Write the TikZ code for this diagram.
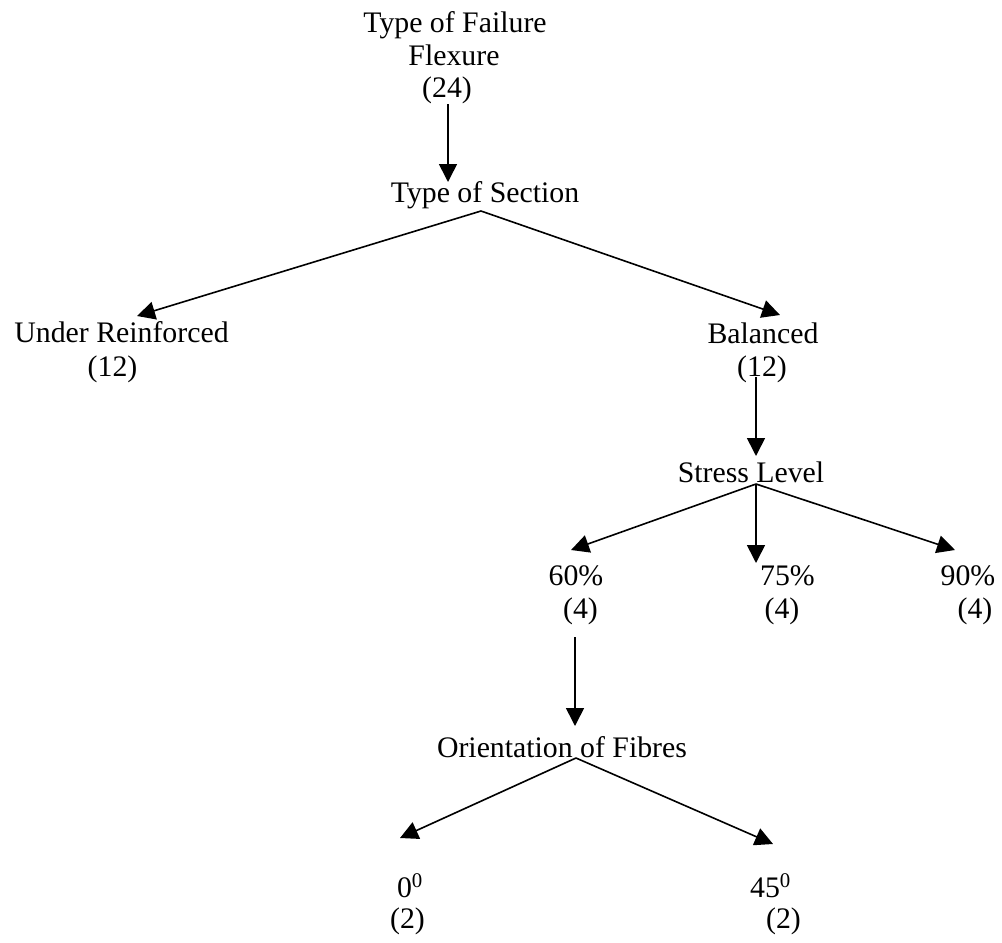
\documentclass[tikz,border=0pt]{standalone}
\usepackage{fontspec}
\setmainfont{Liberation Serif}
\usetikzlibrary{arrows.meta}
\begin{document}
\begin{tikzpicture}[x=1pt,y=-1pt,
  lbl/.style={anchor=base, inner sep=0pt, font=\fontsize{29.8}{34}\selectfont},
  arr/.style={line width=1.6pt, -{Triangle[length=18pt,width=18pt]}}]
\useasboundingbox (0,0) rectangle (1002,943);
% labels
\node[lbl] (tf1) at (455,32) {Type of Failure};
\node[lbl] (tf2) at (454,65) {Flexure};
\node[lbl] (tf3) at (447,97) {(24)};
\node[lbl] (ts) at (485,202) {Type of Section};
\node[lbl] (ur1) at (121.5,342) {Under Reinforced};
\node[lbl] (ur2) at (112.5,376) {(12)};
\node[lbl] (ba1) at (763,343) {Balanced};
\node[lbl] (ba2) at (762,376) {(12)};
\node[lbl] (sl) at (751,482) {Stress Level};
\node[lbl] (p60a) at (576,585) {60\%};
\node[lbl] (p60b) at (580.5,618) {(4)};
\node[lbl] (p75a) at (787.5,585) {75\%};
\node[lbl] (p75b) at (782,618) {(4)};
\node[lbl] (p90a) at (968,585) {90\%};
\node[lbl] (p90b) at (975,618) {(4)};
\node[lbl] (of) at (562,757) {Orientation of Fibres};
\node[lbl] (d0a) at (410,897) {0\textsuperscript{0}};
\node[lbl] (d0b) at (407.5,928) {(2)};
\node[lbl] (d45a) at (770.5,897) {45\textsuperscript{0}};
\node[lbl] (d45b) at (783.5,928) {(2)};
% connector ends
\coordinate (tfS) at (448,104);
\coordinate (tsN) at (448,182);
\coordinate (tsS) at (481,211);
\coordinate (urN) at (137,316);
\coordinate (baN) at (780,315);
\coordinate (baS) at (756,377);
\coordinate (slN) at (756,456);
\coordinate (slS) at (756,484);
\coordinate (p60N) at (571,550);
\coordinate (p75N) at (756,563);
\coordinate (p90N) at (955,550);
\coordinate (p60S) at (575,637);
\coordinate (ofN) at (575,726);
\coordinate (ofS) at (576,758);
\coordinate (d0N) at (400,838);
\coordinate (d45N) at (773,844);
% connectors
\draw[arr] (tfS) -- (tsN);
\draw[arr] (tsS) -- (urN);
\draw[arr] (tsS) -- (baN);
\draw[arr] (baS) -- (slN);
\draw[arr] (slS) -- (p60N);
\draw[arr] (slS) -- (p75N);
\draw[arr] (slS) -- (p90N);
\draw[arr] (p60S) -- (ofN);
\draw[arr] (ofS) -- (d0N);
\draw[arr] (ofS) -- (d45N);
\end{tikzpicture}
\end{document}
